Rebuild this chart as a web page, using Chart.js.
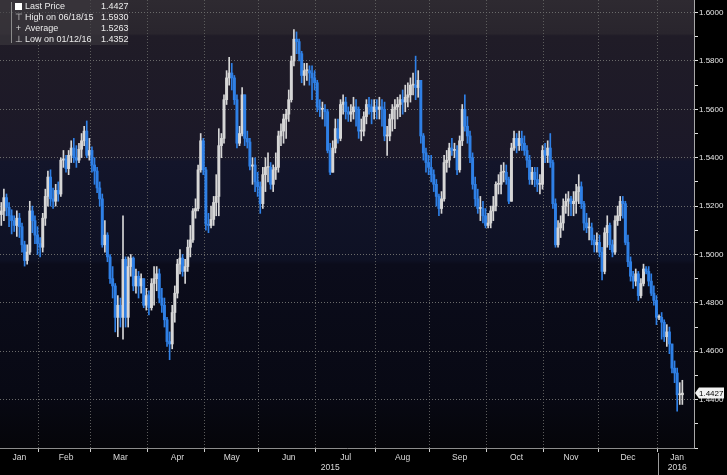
<!DOCTYPE html>
<html>
<head>
<meta charset="utf-8">
<title>GBP/USD daily candles 2015</title>
<script src="https://cdn.jsdelivr.net/npm/chart.js@4.4.1/dist/chart.umd.min.js"></script>
<style>
    html, body { margin: 0; padding: 0; background: #000; }
    #wrap { position: relative; width: 727px; height: 475px; }
    #legend {
        position: absolute; left: 0; top: 0; width: 128px; height: 45px;
        background: rgba(62, 58, 64, 0.6);
        font: 9px 'Liberation Sans', sans-serif;
        color: #ececec;
    }
    #legend .bar { position: absolute; left: 11px; top: 2px; bottom: 2px; width: 1px; background: #8a8a8a; }
    #legend .row { position: absolute; left: 0; height: 11px; line-height: 11px; width: 128px; }
    #legend .sym { position: absolute; left: 14px; width: 9px; text-align: center; color: #d8d8d8; }
    #legend .box { display: inline-block; width: 7px; height: 7px; background: #fff; margin-top: 2px; vertical-align: top; }
    #legend .lbl { position: absolute; left: 25px; }
    #legend .val { position: absolute; left: 101px; }
</style>
</head>
<body>
<div id="wrap">
    <canvas id="fxChart" width="727" height="475"></canvas>
    <div id="legend"></div>
</div>
<script>
// First and last trading day shown (weekdays only)
const firstDay = "2015-01-12";
const lastDay = "2016-01-14";
const monthNames = ["Jan", "Feb", "Mar", "Apr", "May", "Jun", "Jul", "Aug", "Sep", "Oct", "Nov", "Dec"];

// Daily OHLC
const opens = [
    1.5165,1.5180,1.5235,1.5195,1.5160,1.5140,1.5120,1.5150,1.5115,1.5040,1.4975,1.5010,1.5180,1.5140,1.5080,
    1.5045,1.5030,1.5150,1.5240,1.5320,1.5230,1.5220,1.5265,1.5250,1.5390,1.5395,1.5355,1.5410,1.5440,1.5400,1.5390,1.5435,1.5470,1.5510,1.5410,
    1.5430,1.5370,1.5345,1.5275,1.5230,1.5040,1.5080,1.4990,1.4900,1.4870,1.4740,1.4790,1.4740,1.4980,1.4740,1.4950,1.4985,1.4870,1.4910,1.4870,1.4900,1.4790,
    1.4830,1.4780,1.4880,1.4900,1.4920,1.4820,1.4790,1.4730,1.4640,1.4630,1.4760,1.4840,1.4960,1.4985,1.4930,1.4950,1.5030,1.5060,1.5180,1.5190,1.5350,1.5470,
    1.5350,1.5125,1.5120,1.5145,1.5215,1.5240,1.5450,1.5480,1.5640,1.5730,1.5750,1.5730,1.5640,1.5460,1.5500,1.5660,1.5480,1.5465,1.5365,1.5370,1.5300,
    1.5280,1.5210,1.5330,1.5360,1.5360,1.5290,1.5350,1.5360,1.5490,1.5510,1.5560,1.5580,1.5640,1.5800,1.5890,1.5880,1.5830,1.5740,1.5760,1.5760,1.5750,1.5730,
    1.5710,1.5610,1.5600,1.5600,1.5590,1.5430,1.5340,1.5440,1.5520,1.5480,1.5620,1.5630,1.5590,1.5580,1.5590,1.5610,1.5600,1.5510,1.5510,1.5570,1.5620,1.5610,1.5590,
    1.5610,1.5600,1.5610,1.5600,1.5490,1.5490,1.5560,1.5600,1.5610,1.5620,1.5640,1.5630,1.5650,1.5660,1.5700,1.5700,1.5690,1.5720,1.5490,1.5420,1.5380,
    1.5360,1.5330,1.5290,1.5240,1.5190,1.5230,1.5380,1.5390,1.5440,1.5430,1.5430,1.5350,1.5470,1.5600,1.5530,1.5490,1.5400,1.5290,1.5230,1.5190,1.5190,1.5160,
    1.5120,1.5130,1.5180,1.5200,1.5290,1.5290,1.5340,1.5340,1.5310,1.5220,1.5440,1.5480,1.5450,1.5480,1.5460,1.5430,1.5390,1.5310,1.5340,1.5310,1.5290,1.5290,
    1.5430,1.5410,1.5440,1.5380,1.5210,1.5040,1.5110,1.5130,1.5200,1.5220,1.5230,1.5210,1.5220,1.5260,1.5280,1.5210,1.5130,1.5110,1.5110,1.5060,1.5040,
    1.5050,1.5010,1.4930,1.5090,1.5120,1.5040,1.5010,1.5140,1.5160,1.5220,1.5210,1.5050,1.4970,1.4910,1.4890,1.4920,1.4830,1.4880,1.4940,1.4930,1.4890,1.4840,1.4810,
    1.4740,1.4740,1.4720,1.4660,1.4680,1.4630,1.4530,1.4510,1.4420,1.4420
];
const highs = [
    1.5215,1.5270,1.5250,1.5215,1.5185,1.5160,1.5180,1.5170,1.5130,1.5055,1.5040,1.5220,1.5200,1.5160,1.5115,
    1.5070,1.5170,1.5270,1.5345,1.5350,1.5275,1.5290,1.5300,1.5400,1.5430,1.5410,1.5430,1.5470,1.5480,1.5450,1.5460,1.5500,1.5530,1.5552,1.5480,
    1.5445,1.5400,1.5360,1.5300,1.5250,1.5140,1.5090,1.5000,1.4950,1.4880,1.4830,1.4820,1.5160,1.4990,1.4990,1.5000,1.4990,1.4940,1.4930,1.4920,1.4900,1.4860,
    1.4850,1.4900,1.4950,1.4950,1.4940,1.4860,1.4820,1.4740,1.4680,1.4790,1.4870,1.4980,1.5020,1.5000,1.4980,1.5060,1.5120,1.5190,1.5230,1.5370,1.5500,1.5480,
    1.5360,1.5170,1.5200,1.5240,1.5330,1.5520,1.5500,1.5660,1.5760,1.5815,1.5790,1.5740,1.5660,1.5530,1.5690,1.5660,1.5510,1.5480,1.5400,1.5400,1.5340,
    1.5300,1.5360,1.5400,1.5420,1.5380,1.5370,1.5420,1.5510,1.5540,1.5580,1.5600,1.5680,1.5820,1.5930,1.5920,1.5890,1.5840,1.5790,1.5790,1.5780,1.5780,1.5760,
    1.5720,1.5640,1.5630,1.5620,1.5600,1.5460,1.5470,1.5560,1.5560,1.5640,1.5660,1.5650,1.5610,1.5620,1.5650,1.5640,1.5610,1.5560,1.5590,1.5640,1.5650,1.5640,1.5640,
    1.5640,1.5650,1.5640,1.5630,1.5530,1.5580,1.5620,1.5640,1.5650,1.5660,1.5680,1.5700,1.5710,1.5730,1.5750,1.5820,1.5760,1.5720,1.5500,1.5440,1.5410,
    1.5410,1.5350,1.5310,1.5250,1.5260,1.5410,1.5430,1.5460,1.5480,1.5460,1.5450,1.5490,1.5620,1.5660,1.5570,1.5510,1.5420,1.5320,1.5270,1.5240,1.5220,1.5190,
    1.5170,1.5200,1.5240,1.5300,1.5330,1.5370,1.5380,1.5370,1.5320,1.5460,1.5510,1.5500,1.5510,1.5510,1.5490,1.5450,1.5410,1.5360,1.5360,1.5360,1.5330,1.5450,
    1.5460,1.5470,1.5500,1.5390,1.5230,1.5140,1.5160,1.5230,1.5250,1.5260,1.5240,1.5260,1.5290,1.5330,1.5300,1.5220,1.5170,1.5150,1.5130,1.5080,1.5090,
    1.5080,1.5030,1.5110,1.5160,1.5130,1.5060,1.5160,1.5200,1.5240,1.5240,1.5220,1.5080,1.4990,1.4930,1.4940,1.4930,1.4900,1.4960,1.4950,1.4950,1.4920,1.4870,1.4830,
    1.4750,1.4760,1.4730,1.4710,1.4700,1.4630,1.4560,1.4530,1.4470,1.4480
];
const lows = [
    1.5120,1.5140,1.5160,1.5115,1.5085,1.5095,1.5075,1.5070,1.5010,1.4952,1.4960,1.5000,1.5090,1.5045,1.5000,
    1.4990,1.5010,1.5120,1.5200,1.5200,1.5190,1.5200,1.5220,1.5240,1.5360,1.5340,1.5330,1.5380,1.5380,1.5360,1.5380,1.5400,1.5450,1.5400,1.5390,
    1.5340,1.5290,1.5255,1.5200,1.5030,1.5010,1.4970,1.4880,1.4820,1.4680,1.4660,1.4700,1.4650,1.4700,1.4700,1.4910,1.4850,1.4840,1.4820,1.4840,1.4780,1.4770,
    1.4750,1.4770,1.4790,1.4850,1.4800,1.4760,1.4700,1.4620,1.4565,1.4610,1.4720,1.4820,1.4920,1.4910,1.4880,1.4930,1.4990,1.5050,1.5150,1.5180,1.5340,1.5330,
    1.5100,1.5090,1.5110,1.5120,1.5160,1.5160,1.5400,1.5460,1.5620,1.5700,1.5680,1.5620,1.5440,1.5450,1.5490,1.5450,1.5440,1.5350,1.5290,1.5260,1.5240,
    1.5170,1.5190,1.5260,1.5300,1.5270,1.5260,1.5310,1.5340,1.5450,1.5460,1.5480,1.5550,1.5630,1.5780,1.5830,1.5800,1.5710,1.5700,1.5720,1.5700,1.5640,1.5680,
    1.5590,1.5570,1.5560,1.5530,1.5420,1.5330,1.5340,1.5420,1.5460,1.5470,1.5580,1.5560,1.5550,1.5550,1.5560,1.5530,1.5480,1.5470,1.5490,1.5540,1.5580,1.5540,1.5560,
    1.5560,1.5560,1.5530,1.5470,1.5410,1.5470,1.5510,1.5520,1.5560,1.5570,1.5580,1.5590,1.5610,1.5630,1.5660,1.5640,1.5650,1.5460,1.5390,1.5340,1.5330,
    1.5300,1.5260,1.5200,1.5160,1.5170,1.5220,1.5340,1.5360,1.5410,1.5400,1.5330,1.5340,1.5450,1.5510,1.5460,1.5380,1.5270,1.5200,1.5170,1.5140,1.5130,1.5110,
    1.5110,1.5110,1.5140,1.5180,1.5250,1.5250,1.5300,1.5290,1.5210,1.5220,1.5430,1.5420,1.5430,1.5430,1.5410,1.5360,1.5290,1.5290,1.5280,1.5260,1.5250,1.5270,
    1.5380,1.5380,1.5360,1.5190,1.5030,1.5030,1.5070,1.5100,1.5170,1.5160,1.5160,1.5160,1.5170,1.5210,1.5190,1.5100,1.5090,1.5060,1.5040,1.5010,1.5010,
    1.4990,1.4895,1.4920,1.5030,1.5020,1.4990,1.5000,1.5120,1.5140,1.5150,1.5040,1.4950,1.4890,1.4860,1.4870,1.4810,1.4820,1.4870,1.4920,1.4870,1.4830,1.4790,1.4710,
    1.4730,1.4650,1.4640,1.4620,1.4590,1.4510,1.4470,1.4352,1.4380,1.4380
];
const closes = [
    1.5180,1.5235,1.5195,1.5160,1.5140,1.5120,1.5150,1.5115,1.5040,1.4975,1.5010,1.5180,1.5140,1.5080,1.5045,
    1.5030,1.5150,1.5240,1.5320,1.5230,1.5220,1.5265,1.5250,1.5390,1.5395,1.5355,1.5410,1.5440,1.5400,1.5390,1.5435,1.5470,1.5510,1.5410,1.5430,
    1.5370,1.5345,1.5275,1.5230,1.5040,1.5080,1.4990,1.4900,1.4870,1.4740,1.4790,1.4740,1.4980,1.4740,1.4950,1.4985,1.4870,1.4910,1.4870,1.4900,1.4790,1.4830,
    1.4780,1.4880,1.4900,1.4920,1.4820,1.4790,1.4730,1.4640,1.4630,1.4760,1.4840,1.4960,1.4985,1.4930,1.4950,1.5030,1.5060,1.5180,1.5190,1.5350,1.5470,1.5350,
    1.5125,1.5120,1.5145,1.5215,1.5240,1.5450,1.5480,1.5640,1.5730,1.5750,1.5730,1.5640,1.5460,1.5500,1.5660,1.5480,1.5465,1.5365,1.5370,1.5300,1.5280,
    1.5210,1.5330,1.5360,1.5360,1.5290,1.5350,1.5360,1.5490,1.5510,1.5560,1.5580,1.5640,1.5800,1.5890,1.5880,1.5830,1.5740,1.5760,1.5760,1.5750,1.5730,1.5710,
    1.5610,1.5600,1.5600,1.5590,1.5430,1.5340,1.5440,1.5520,1.5480,1.5620,1.5630,1.5590,1.5580,1.5590,1.5610,1.5600,1.5510,1.5510,1.5570,1.5620,1.5610,1.5590,1.5610,
    1.5600,1.5610,1.5600,1.5490,1.5490,1.5560,1.5600,1.5610,1.5620,1.5640,1.5630,1.5650,1.5660,1.5700,1.5700,1.5690,1.5720,1.5490,1.5420,1.5380,1.5360,
    1.5330,1.5290,1.5240,1.5190,1.5230,1.5380,1.5390,1.5440,1.5430,1.5430,1.5350,1.5470,1.5600,1.5530,1.5490,1.5400,1.5290,1.5230,1.5190,1.5190,1.5160,1.5120,
    1.5130,1.5180,1.5200,1.5290,1.5290,1.5340,1.5340,1.5310,1.5220,1.5440,1.5480,1.5450,1.5480,1.5460,1.5430,1.5390,1.5310,1.5340,1.5310,1.5290,1.5290,1.5430,
    1.5410,1.5440,1.5380,1.5210,1.5040,1.5110,1.5130,1.5200,1.5220,1.5230,1.5210,1.5220,1.5260,1.5280,1.5210,1.5130,1.5110,1.5110,1.5060,1.5040,1.5050,
    1.5010,1.4930,1.5090,1.5120,1.5040,1.5010,1.5140,1.5160,1.5220,1.5210,1.5050,1.4970,1.4910,1.4890,1.4920,1.4830,1.4880,1.4940,1.4930,1.4890,1.4840,1.4810,1.4740,
    1.4740,1.4720,1.4660,1.4680,1.4630,1.4530,1.4510,1.4420,1.4420,1.4427
];

// Legend figures shown top left
const legendRows = [
    { sym: "box", label: "Last Price", value: "1.4427" },
    { sym: "\u22A4", label: "High on 06/18/15", value: "1.5930" },
    { sym: "+", label: "Average", value: "1.5263" },
    { sym: "\u22A5", label: "Low on 01/12/16", value: "1.4352" }
];

const padDays = 4; // empty slots right of the last candle
const upColor = "#d6d6d6";
const downColor = "#2f80e6";
const fontFamily = "'Liberation Sans', sans-serif";

// Function to list weekdays between two dates
function tradingDays(from, to) {
    const out = [];
    const d = new Date(from + "T00:00:00Z");
    const end = new Date(to + "T00:00:00Z");
    while (d <= end) {
        const wd = d.getUTCDay();
        if (wd !== 0 && wd !== 6) out.push(d.toISOString().slice(0, 10));
        d.setUTCDate(d.getUTCDate() + 1);
    }
    return out;
}

const days = tradingDays(firstDay, lastDay);
const categories = days.concat(Array(padDays).fill(""));

// Month boundaries, month label slots and year label slots
const monthStarts = new Set();
const monthLabelAt = new Map();
const yearLabelAt = new Map();
let yearStartIdx = 0;
(function buildTicks() {
    const spans = {};
    const yearSpans = {};
    days.forEach((d, i) => {
        const m = d.slice(0, 7);
        const y = d.slice(0, 4);
        if (!spans[m]) { spans[m] = [i, i]; if (i > 0) monthStarts.add(i); }
        spans[m][1] = i;
        if (!yearSpans[y]) yearSpans[y] = [i, i];
        yearSpans[y][1] = i;
    });
    const mKeys = Object.keys(spans);
    mKeys.forEach((m, k) => {
        const last = k === mKeys.length - 1 ? categories.length - 1 : spans[m][1];
        monthLabelAt.set(Math.round((spans[m][0] + last) / 2), monthNames[parseInt(m.slice(5), 10) - 1]);
    });
    const yKeys = Object.keys(yearSpans);
    yKeys.forEach((y, k) => {
        const last = k === yKeys.length - 1 ? categories.length - 1 : yearSpans[y][1];
        yearLabelAt.set(Math.round((yearSpans[y][0] + last) / 2), y);
        if (k > 0) yearStartIdx = yearSpans[y][0];
    });
})();

// Function to fill in the html legend
function buildLegend() {
    const el = document.getElementById("legend");
    let html = '<div class="bar"></div>';
    legendRows.forEach((r, i) => {
        const sym = r.sym === "box" ? '<span class="box"></span>' : r.sym;
        html += '<div class="row" style="top:' + (i * 11 + 1) + 'px">' +
            '<span class="sym">' + sym + '</span>' +
            '<span class="lbl">' + r.label + '</span>' +
            '<span class="val">' + r.value + '</span></div>';
    });
    el.innerHTML = html;
}

// Plot background: dark bands like the terminal chart
const backdrop = {
    id: "backdrop",
    beforeDraw(chart) {
        const { ctx, chartArea: a } = chart;
        ctx.save();
        ctx.fillStyle = "#000";
        ctx.fillRect(0, 0, chart.width, chart.height);
        const g = ctx.createLinearGradient(0, a.top, 0, a.bottom);
        g.addColorStop(0, "#2e2a31");
        g.addColorStop(0.075, "#29252d");
        g.addColorStop(0.08, "#201c27");
        g.addColorStop(0.35, "#1b1828");
        g.addColorStop(0.36, "#13152a");
        g.addColorStop(0.58, "#0e1124");
        g.addColorStop(0.59, "#0b0c1b");
        g.addColorStop(0.88, "#080914");
        g.addColorStop(1, "#050509");
        ctx.fillStyle = g;
        ctx.fillRect(a.left, a.top, a.right - a.left, a.bottom - a.top);
        ctx.restore();
    }
};

// Last price tag on the axis and the year divider under the axis
const lastTag = {
    id: "lastTag",
    afterDraw(chart) {
        const { ctx, chartArea: a, scales } = chart;
        const last = closes[closes.length - 1];
        const y = scales.y.getPixelForValue(last);
        ctx.save();
        ctx.fillStyle = "#f2f2f2";
        ctx.beginPath();
        ctx.moveTo(a.right + 1, y);
        ctx.lineTo(a.right + 5, y - 5.5);
        ctx.lineTo(a.right + 30, y - 5.5);
        ctx.lineTo(a.right + 30, y + 5.5);
        ctx.lineTo(a.right + 5, y + 5.5);
        ctx.closePath();
        ctx.fill();
        ctx.fillStyle = "#000";
        ctx.font = "8px " + fontFamily;
        ctx.textBaseline = "middle";
        ctx.fillText(last.toFixed(4), a.right + 5, y + 0.5);

        const slot = (a.right - a.left) / categories.length;
        const x = Math.round(scales.x.getPixelForTick(yearStartIdx) - slot / 2) + 0.5;
        ctx.strokeStyle = "#9a9a9a";
        ctx.lineWidth = 1;
        ctx.beginPath();
        ctx.moveTo(x, a.bottom + 5);
        ctx.lineTo(x, chart.height);
        ctx.stroke();
        ctx.restore();
    }
};

// Function to create the candle chart (floating bars: wick = low..high, body = open..close)
function createChart() {
    const colors = closes.map((c, i) => (c >= opens[i] ? upColor : downColor));
    const wicks = highs.map((h, i) => [lows[i], h]);
    const bodies = opens.map((o, i) => [o, closes[i]]);
    const isMajor = v => Math.round(v * 100) % 2 === 0;

    const ctx = document.getElementById("fxChart").getContext("2d");
    return new Chart(ctx, {
        type: "bar",
        data: {
            labels: categories,
            datasets: [
                { label: "High/Low", data: wicks, backgroundColor: colors, barThickness: 1, grouped: false, order: 2 },
                { label: "Open/Close", data: bodies, backgroundColor: colors, barThickness: 2.3, minBarLength: 1, grouped: false, order: 1 }
            ]
        },
        options: {
            responsive: false,
            animation: false,
            devicePixelRatio: 1,
            layout: { padding: 0 },
            plugins: { legend: { display: false }, tooltip: { enabled: false } },
            scales: {
                x: {
                    type: "category",
                    position: "bottom",
                    weight: 0,
                    offset: true,
                    afterFit: s => { s.height = 15; s.paddingLeft = 0; s.paddingRight = 0; },
                    border: { display: true, color: "#8c8c8c", width: 1, dash: [1, 2] },
                    grid: {
                        offset: true,
                        color: c => (c.index !== undefined && monthStarts.has(c.index) ? "#5c5c5c" : "transparent"),
                        tickColor: c => (c.index !== undefined && monthStarts.has(c.index) ? "#cfcfcf" : "transparent"),
                        tickLength: 4
                    },
                    ticks: {
                        autoSkip: false, maxRotation: 0, minRotation: 0, padding: 1,
                        color: "#dcdcdc", font: { family: fontFamily, size: 8.5 },
                        callback: (v, i) => monthLabelAt.get(i) || ""
                    }
                },
                x2: {
                    type: "category",
                    position: "bottom",
                    weight: 1,
                    offset: true,
                    afterFit: s => { s.height = 12; s.paddingLeft = 0; s.paddingRight = 0; },
                    border: { display: false },
                    grid: { display: false, drawTicks: false },
                    ticks: {
                        autoSkip: false, maxRotation: 0, minRotation: 0, padding: 0,
                        color: "#dcdcdc", font: { family: fontFamily, size: 8.5 },
                        callback: (v, i) => yearLabelAt.get(i) || ""
                    }
                },
                y: {
                    type: "linear",
                    position: "right",
                    min: 1.42,
                    max: 1.6052,
                    afterFit: s => { s.width = 33; s.paddingTop = 0; s.paddingBottom = 0; },
                    border: { display: true, color: "#a8a8a8", width: 1, dash: [1, 2] },
                    grid: {
                        color: c => (c.tick && isMajor(c.tick.value) && c.tick.value > 1.425 ? "#6a6a6a" : "transparent"),
                        tickColor: "#e0e0e0",
                        tickLength: 4
                    },
                    ticks: {
                        stepSize: 0.01, includeBounds: false, padding: 1,
                        color: "#e6e6e6", font: { family: fontFamily, size: 8 },
                        callback: v => (isMajor(v) && v > 1.425 ? v.toFixed(4) : "")
                    }
                }
            }
        },
        plugins: [backdrop, lastTag]
    });
}

buildLegend();
createChart();
</script>
</body>
</html>
